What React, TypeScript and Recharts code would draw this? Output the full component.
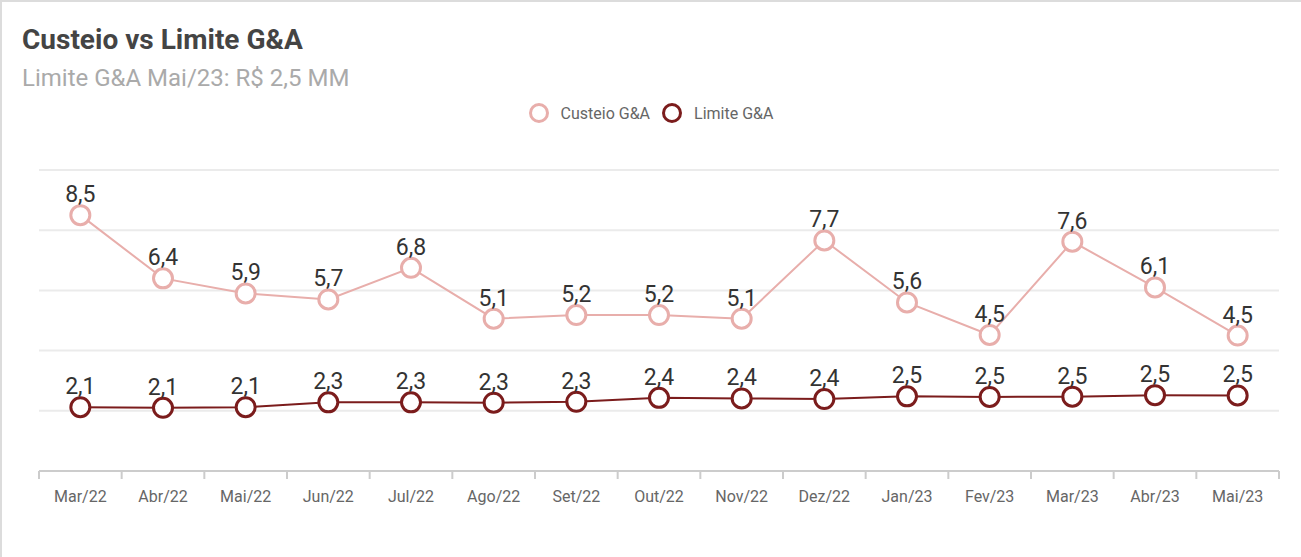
import React from "react";
import { CartesianGrid, LabelList, Legend, Line, LineChart, XAxis, YAxis } from "recharts";

const months = [
  "Mar/22", "Abr/22", "Mai/22", "Jun/22", "Jul/22", "Ago/22", "Set/22", "Out/22",
  "Nov/22", "Dez/22", "Jan/23", "Fev/23", "Mar/23", "Abr/23", "Mai/23",
];
const custeio = [8.5, 6.4, 5.9, 5.7, 6.75, 5.06, 5.18, 5.18, 5.06, 7.66, 5.6, 4.52, 7.62, 6.1, 4.5];
const limite = [2.12, 2.1, 2.12, 2.28, 2.28, 2.27, 2.3, 2.43, 2.41, 2.39, 2.48, 2.46, 2.47, 2.52, 2.51];
const yTicks = [0, 2, 4, 6, 8, 10];

const PINK = "#e8aeab";
const DARK = "#7b1c1c";
const FONT = "Roboto, 'Noto Sans', sans-serif";

const W = 1301;
const H = 557;
// legend height and x-axis height are added by recharts on top of these
const M = { top: 148, right: 22, left: 39, bottom: 56 };
const BAND = (W - M.left - M.right) / months.length;

const data = months.map((m, i) => ({ month: m, custeio: custeio[i], limite: limite[i] }));

const fmt = (v: any) => Number(v).toFixed(1).replace(".", ",");

function Tick(props: any) {
  const { x, y, payload, index } = props;
  const left = x - BAND / 2;
  return (
    <g>
      <line x1={left} y1={y - 8} x2={left} y2={y} stroke="#cccccc" strokeWidth={2} />
      {index === months.length - 1 && (
        <line x1={x + BAND / 2} y1={y - 8} x2={x + BAND / 2} y2={y} stroke="#cccccc" strokeWidth={2} />
      )}
      <text x={x} y={y + 23} textAnchor="middle" fill="#666" fontSize={16} fontFamily={FONT}>
        {payload.value}
      </text>
    </g>
  );
}

function LegendContent() {
  const items = [
    { label: "Custeio G&A", color: PINK },
    { label: "Limite G&A", color: DARK },
  ];
  return (
    <div style={{ display: "flex", justifyContent: "center", gap: 11, fontFamily: FONT, height: 22 }}>
      {items.map((it) => (
        <div key={it.label} style={{ display: "flex", alignItems: "center", gap: 11 }}>
          <svg width={22} height={22}>
            <circle cx={11} cy={11} r={8.5} fill="#fff" stroke={it.color} strokeWidth={3} />
          </svg>
          <span style={{ fontSize: 16, color: "#666" }}>{it.label}</span>
        </div>
      ))}
    </div>
  );
}

const dot = (color: string) => ({ r: 9.5, fill: "#fff", stroke: color, strokeWidth: 3 });

export default function App() {
  return (
    <div
      style={{
        position: "absolute",
        left: 0,
        top: 0,
        width: W,
        height: H,
        boxSizing: "border-box",
        borderTop: "2px solid #dcdcdc",
        borderLeft: "2px solid #dcdcdc",
        background: "#fff",
        fontFamily: FONT,
      }}
    >
      <div style={{ position: "absolute", left: 20, top: 21, fontSize: 28, fontWeight: 700, color: "#444" }}>
        Custeio vs Limite G&amp;A
      </div>
      <div style={{ position: "absolute", left: 20, top: 62, fontSize: 24, color: "#aaa" }}>
        Limite G&amp;A Mai/23: R$ 2,5 MM
      </div>
      <div style={{ position: "absolute", left: -2, top: -2 }}>
        <LineChart width={W} height={H} data={data} margin={M}>
          <CartesianGrid vertical={false} stroke="#ebebeb" strokeWidth={2} />
          <XAxis
            dataKey="month"
            scale="band"
            tick={<Tick />}
            tickLine={false}
            axisLine={{ stroke: "#cccccc", strokeWidth: 2 }}
            interval={0}
          />
          <YAxis hide domain={[0, 10]} ticks={yTicks} />
          <Legend
            verticalAlign="top"
            content={<LegendContent />}
            wrapperStyle={{ top: 102, left: 0, width: W }}
          />
          <Line
            dataKey="custeio"
            name="Custeio G&A"
            stroke={PINK}
            strokeWidth={2}
            dot={dot(PINK)}
            activeDot={false}
            isAnimationActive={false}
          >
            <LabelList dataKey="custeio" position="top" offset={13} formatter={fmt} fill="#333" fontSize={23} fontFamily={FONT} />
          </Line>
          <Line
            dataKey="limite"
            name="Limite G&A"
            stroke={DARK}
            strokeWidth={2}
            dot={dot(DARK)}
            activeDot={false}
            isAnimationActive={false}
          >
            <LabelList dataKey="limite" position="top" offset={13} formatter={fmt} fill="#333" fontSize={23} fontFamily={FONT} />
          </Line>
        </LineChart>
      </div>
    </div>
  );
}
